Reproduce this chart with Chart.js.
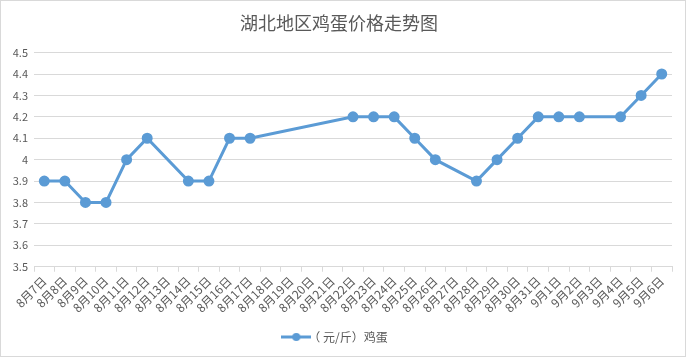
<!DOCTYPE html>
<html><head><meta charset="utf-8">
<script src="https://cdn.jsdelivr.net/npm/chart.js@4.4.1/dist/chart.umd.min.js"></script>
<style>html,body{margin:0;padding:0;background:#fff}#wrap{width:686px;height:357px;position:relative}</style>
</head><body><div id="wrap"><canvas id="c" width="686" height="357"></canvas></div>
<script>
const categories = ["8月7日","8月8日","8月9日","8月10日","8月11日","8月12日","8月13日","8月14日","8月15日","8月16日","8月17日","8月18日","8月19日","8月20日","8月21日","8月22日","8月23日","8月24日","8月25日","8月26日","8月27日","8月28日","8月29日","8月30日","8月31日","9月1日","9月2日","9月3日","9月4日","9月5日","9月6日"];
const eggPrices = [3.9,3.9,3.8,3.8,4.0,4.1,null,3.9,3.9,4.1,4.1,null,null,null,null,4.2,4.2,4.2,4.1,4.0,null,3.9,4.0,4.1,4.2,4.2,4.2,null,4.2,4.3,4.4];
const seriesName = "（ 元/斤）鸡蛋";
const titleText = "湖北地区鸡蛋价格走势图";
const yMin = 3.5, yMax = 4.5, yStep = 0.1;

const BLUE = "#5b9bd5", TXT = "#595959", GRID = "#d9d9d9";
const FONT = "'Noto Sans CJK SC', 'Liberation Sans', sans-serif";

const mk = document.createElement('canvas');
mk.width = 30; mk.height = 10;
(function(){const g=mk.getContext('2d');g.strokeStyle=BLUE;g.lineWidth=3;g.beginPath();g.moveTo(0,5);g.lineTo(30,5);g.stroke();g.fillStyle=BLUE;g.beginPath();g.arc(15,5,4,0,Math.PI*2);g.fill();})();

const borderPlugin = {id:'border',afterDraw(ch){const c=ch.ctx;c.save();c.strokeStyle=GRID;c.lineWidth=1;c.strokeRect(0.5,0.5,ch.width-1,ch.height-1);c.restore();}};

new Chart(document.getElementById('c'), {
  type:'line',
  data:{labels:categories,datasets:[{label:seriesName,data:eggPrices,borderColor:BLUE,backgroundColor:BLUE,borderWidth:3,pointRadius:4,pointHoverRadius:4,pointBackgroundColor:BLUE,pointBorderColor:BLUE,spanGaps:true,tension:0}]},
  options:{
    responsive:false,animation:false,
    layout:{padding:{left:6,right:14,top:0,bottom:4}},
    plugins:{
      title:{display:true,text:titleText,color:TXT,font:{family:FONT,size:18,weight:'normal'},padding:{top:12,bottom:19}},
      legend:{position:'bottom',labels:{color:TXT,font:{family:FONT,size:12},usePointStyle:true,
        generateLabels(ch){return [{text:seriesName,pointStyle:mk,fillStyle:BLUE,strokeStyle:BLUE,lineWidth:0,fontColor:TXT,datasetIndex:0}];}}},
      tooltip:{enabled:false}
    },
    scales:{
      x:{offset:true,
        afterFit(s){s.height+=4;},
        grid:{display:true,offset:true,drawOnChartArea:false,drawTicks:true,tickLength:5,color:GRID},
        border:{display:true,color:GRID},
        ticks:{color:TXT,font:{family:FONT,size:12},maxRotation:45,minRotation:45,autoSkip:false,padding:2}},
      y:{min:yMin,max:yMax,
        afterFit(s){s.width=28;},
        grid:{color:GRID,drawTicks:false},
        border:{display:false},
        ticks:{stepSize:yStep,color:TXT,font:{family:FONT,size:11},padding:6,
          callback(v){return String(Number(v.toFixed(1)));}}}
    }
  },
  plugins:[borderPlugin]
});
</script></body></html>
